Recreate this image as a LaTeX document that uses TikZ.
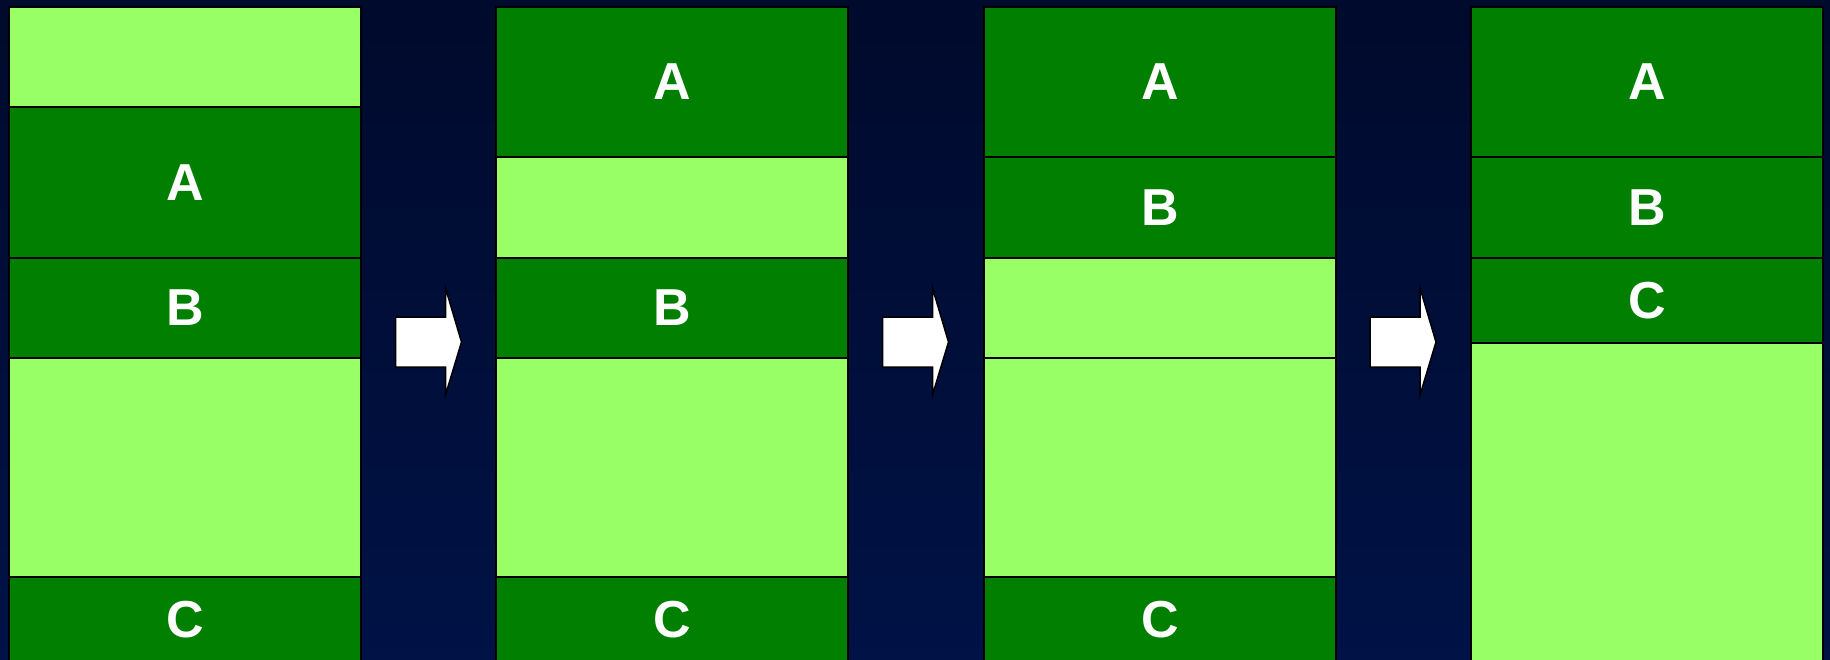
\documentclass[tikz,border=0pt]{standalone}
\usepackage{fontspec}
\setmainfont{Liberation Sans}
\usetikzlibrary{calc}
\definecolor{freegreen}{RGB}{153,255,102}
\definecolor{usedgreen}{RGB}{0,127,0}
\definecolor{navytop}{RGB}{0,10,44}
\definecolor{navybot}{RGB}{0,18,70}

\begin{document}
\begin{tikzpicture}[x=1pt,y=-1pt,
  blk/.style={draw=black,line width=1.2pt,minimum width=352pt,inner sep=0pt,
              outer sep=0pt,anchor=north west,text=white,
              font={\fontsize{52}{60}\selectfont\bfseries}},
  freeblk/.style={blk,fill=freegreen},
  usedblk/.style={blk,fill=usedgreen},
  fwd/.style={draw=black,line width=1.5pt,fill=white,line join=miter},
]
\useasboundingbox (0,0) rectangle (1830,660);
\shade[top color=navytop,bottom color=navybot] (0,0) rectangle (1830,660);

\def\xA{9}\def\xB{496}\def\xC{984}\def\xD{1471}

% column 1 -- before
\node[freeblk,minimum height=100pt] (f1a) at (\xA,7)   {};
\node[usedblk,minimum height=151pt] (a1)  at (\xA,107) {A};
\node[usedblk,minimum height=100pt] (b1)  at (\xA,258) {B};
\node[freeblk,minimum height=219pt] (f1b) at (\xA,358) {};
\node[usedblk,minimum height=85pt]  (c1)  at (\xA,577) {C};
% column 2 -- A moved up
\node[usedblk,minimum height=150pt] (a2)  at (\xB,7)   {A};
\node[freeblk,minimum height=101pt] (f2a) at (\xB,157) {};
\node[usedblk,minimum height=100pt] (b2)  at (\xB,258) {B};
\node[freeblk,minimum height=219pt] (f2b) at (\xB,358) {};
\node[usedblk,minimum height=85pt]  (c2)  at (\xB,577) {C};
% column 3 -- B moved up
\node[usedblk,minimum height=150pt] (a3)  at (\xC,7)   {A};
\node[usedblk,minimum height=101pt] (b3)  at (\xC,157) {B};
\node[freeblk,minimum height=100pt] (f3a) at (\xC,258) {};
\node[freeblk,minimum height=219pt] (f3b) at (\xC,358) {};
\node[usedblk,minimum height=85pt]  (c3)  at (\xC,577) {C};
% column 4 -- compacted
\node[usedblk,minimum height=150pt] (a4)  at (\xD,7)   {A};
\node[usedblk,minimum height=101pt] (b4)  at (\xD,157) {B};
\node[usedblk,minimum height=85pt]  (c4)  at (\xD,258) {C};
\node[freeblk,minimum height=319pt] (f4a) at (\xD,343) {};

% block arrows between the columns
\foreach \i/\gx in {1/428.5,2/915.5,3/1403}{
  \coordinate (g\i) at (\gx,342);
  \draw[fwd] ($(g\i)+(-33,-25)$) -- ($(g\i)+(17,-25)$) -- ($(g\i)+(17,-54)$)
    -- ($(g\i)+(33,0)$) -- ($(g\i)+(17,53)$) -- ($(g\i)+(17,25)$)
    -- ($(g\i)+(-33,25)$) -- cycle;
}
\end{tikzpicture}
\end{document}
